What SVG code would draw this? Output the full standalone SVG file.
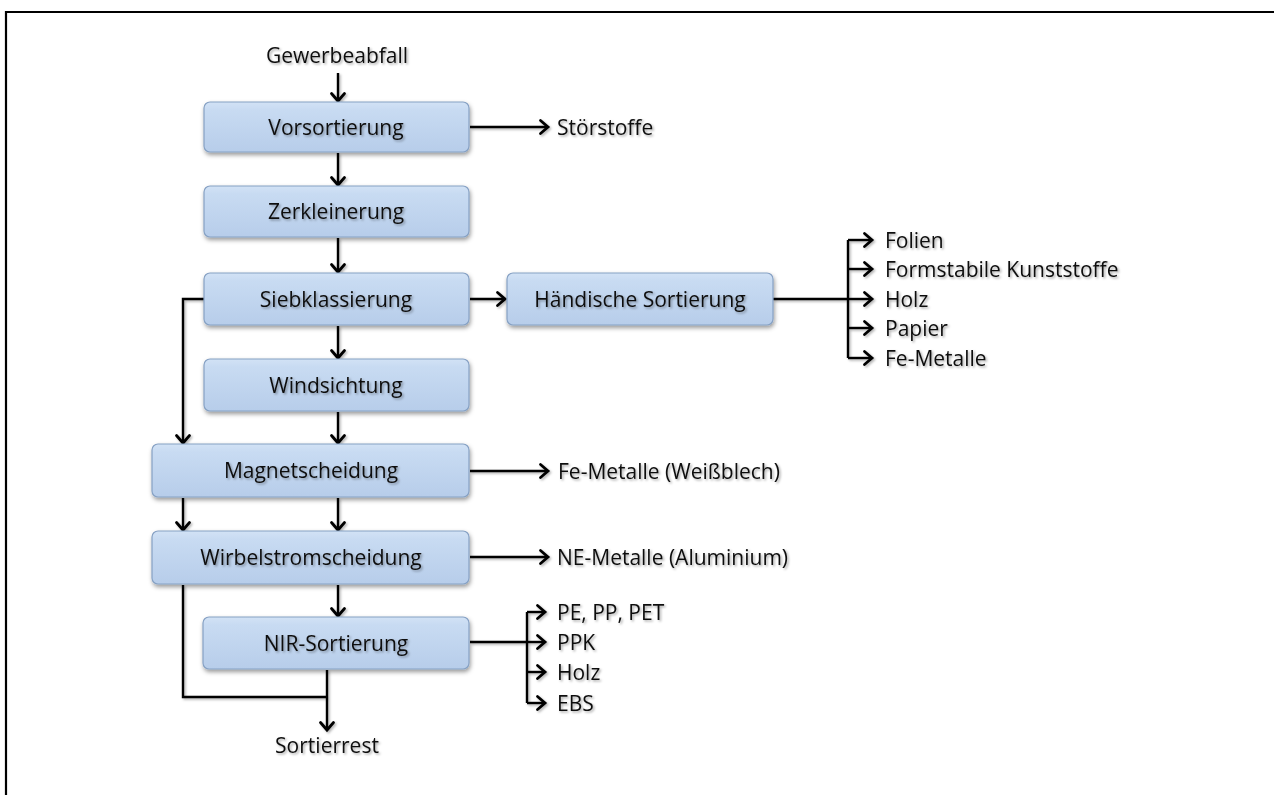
<svg xmlns="http://www.w3.org/2000/svg" width="1274" height="795" viewBox="0 0 1274 795">
  <defs>
    <linearGradient id="boxFill" x1="0" y1="0" x2="0" y2="1">
      <stop offset="0" stop-color="#d2e2f5"/>
      <stop offset="0.15" stop-color="#c8dbf2"/>
      <stop offset="1" stop-color="#b7cdea"/>
    </linearGradient>
    <filter id="boxShadow" x="-10%" y="-20%" width="120%" height="150%">
      <feDropShadow dx="1" dy="2.5" stdDeviation="2" flood-color="#000" flood-opacity="0.4"/>
    </filter>
    <filter id="softShadow" x="-10%" y="-30%" width="120%" height="160%">
      <feDropShadow dx="1.5" dy="1.5" stdDeviation="1.3" flood-color="#000" flood-opacity="0.35"/>
    </filter>
    <filter id="wireShadow" filterUnits="userSpaceOnUse" x="0" y="0" width="1274" height="795">
      <feDropShadow dx="1.5" dy="1.5" stdDeviation="1.2" flood-color="#000" flood-opacity="0.3"/>
    </filter>
    <marker id="arrow" markerUnits="userSpaceOnUse" markerWidth="16" markerHeight="18" refX="10" refY="8" orient="auto" overflow="visible">
      <path d="M2.5,1.5 L10,8 L2.5,14.5" fill="none" stroke="#000" stroke-width="2.8" stroke-linecap="round" stroke-linejoin="miter"/>
    </marker>
    <style>
      .box { fill: url(#boxFill); stroke: #86a1c4; stroke-width: 1.2; filter: url(#boxShadow); }
      .lbl { font-family: "Open Sans", "Liberation Sans", sans-serif; font-size: 21px; fill: #111; filter: url(#softShadow); }
      .mid { text-anchor: middle; }
      .wire { fill: none; stroke: #000; stroke-width: 2.4; }
      .arr { marker-end: url(#arrow); }
      .frame { fill: none; stroke: #000; stroke-width: 2.2; }
    </style>
  </defs>

  <rect x="0" y="0" width="1274" height="795" fill="#fff"/>
  <path class="frame" d="M6,795 V12 H1274"/>

  <!-- connectors -->
  <g id="connectors" filter="url(#wireShadow)">
    <!-- main column -->
    <line class="wire arr" x1="338" y1="73" x2="338" y2="101"/>
    <line class="wire arr" x1="338" y1="153" x2="338" y2="185"/>
    <line class="wire arr" x1="338" y1="238" x2="338" y2="272"/>
    <line class="wire arr" x1="338" y1="326" x2="338" y2="358"/>
    <line class="wire arr" x1="338" y1="412" x2="338" y2="443"/>
    <line class="wire arr" x1="338" y1="498" x2="338" y2="530"/>
    <line class="wire arr" x1="338" y1="585" x2="338" y2="616"/>
    <!-- bypass left of the main column -->
    <polyline class="wire arr" points="204,299 183,299 183,443"/>
    <line class="wire arr" x1="183" y1="498" x2="183" y2="530"/>
    <polyline class="wire" points="183,585 183,697 327,697"/>
    <line class="wire arr" x1="327" y1="670" x2="327" y2="730"/>
    <!-- side outputs -->
    <line class="wire arr" x1="470" y1="127" x2="548" y2="127"/>
    <line class="wire arr" x1="470" y1="299" x2="505" y2="299"/>
    <line class="wire arr" x1="470" y1="471" x2="548" y2="471"/>
    <line class="wire arr" x1="470" y1="557" x2="548" y2="557"/>
    <!-- manual sorting fan-out -->
    <line class="wire" x1="773" y1="299" x2="848" y2="299"/>
    <line class="wire" x1="848" y1="240" x2="848" y2="358"/>
    <line class="wire arr" x1="848" y1="240" x2="872" y2="240"/>
    <line class="wire arr" x1="848" y1="269" x2="872" y2="269"/>
    <line class="wire arr" x1="848" y1="299" x2="872" y2="299"/>
    <line class="wire arr" x1="848" y1="328" x2="872" y2="328"/>
    <line class="wire arr" x1="848" y1="358" x2="872" y2="358"/>
    <!-- NIR fan-out -->
    <line class="wire" x1="470" y1="642" x2="527" y2="642"/>
    <line class="wire" x1="527" y1="612" x2="527" y2="703"/>
    <line class="wire arr" x1="527" y1="612" x2="545" y2="612"/>
    <line class="wire arr" x1="527" y1="642" x2="545" y2="642"/>
    <line class="wire arr" x1="527" y1="672" x2="545" y2="672"/>
    <line class="wire arr" x1="527" y1="703" x2="545" y2="703"/>
  </g>

  <!-- process steps -->
  <g id="vorsortierung">
    <rect class="box" x="204" y="102" width="265" height="50" rx="6"/>
    <text class="lbl mid" x="336" y="135">Vorsortierung</text>
  </g>
  <g id="zerkleinerung">
    <rect class="box" x="204" y="186" width="265" height="51" rx="6"/>
    <text class="lbl mid" x="336" y="219">Zerkleinerung</text>
  </g>
  <g id="siebklassierung">
    <rect class="box" x="204" y="273" width="265" height="52" rx="6"/>
    <text class="lbl mid" x="336" y="307">Siebklassierung</text>
  </g>
  <g id="windsichtung">
    <rect class="box" x="204" y="359" width="265" height="52" rx="6"/>
    <text class="lbl mid" x="336" y="393">Windsichtung</text>
  </g>
  <g id="magnetscheidung">
    <rect class="box" x="152" y="444" width="317" height="53" rx="6"/>
    <text class="lbl mid" x="311" y="478">Magnetscheidung</text>
  </g>
  <g id="wirbelstromscheidung">
    <rect class="box" x="152" y="531" width="317" height="53" rx="6"/>
    <text class="lbl mid" x="311" y="565">Wirbelstromscheidung</text>
  </g>
  <g id="nir-sortierung">
    <rect class="box" x="203" y="617" width="266" height="52" rx="6"/>
    <text class="lbl mid" x="336" y="651">NIR-Sortierung</text>
  </g>
  <g id="haendische-sortierung">
    <rect class="box" x="507" y="273" width="266" height="52" rx="6"/>
    <text class="lbl mid" x="640" y="307">Händische Sortierung</text>
  </g>

  <!-- inputs and outputs -->
  <g id="gewerbeabfall"><text class="lbl mid" x="337" y="63">Gewerbeabfall</text></g>
  <g id="stoerstoffe"><text class="lbl" x="557" y="135">Störstoffe</text></g>
  <g id="fe-weissblech"><text class="lbl" x="558" y="479">Fe-Metalle (Weißblech)</text></g>
  <g id="ne-aluminium"><text class="lbl" x="557" y="565">NE-Metalle (Aluminium)</text></g>
  <g id="sortierrest"><text class="lbl mid" x="327" y="753">Sortierrest</text></g>

  <g id="hand-outputs">
    <text class="lbl" x="885" y="248">Folien</text>
    <text class="lbl" x="885" y="277">Formstabile Kunststoffe</text>
    <text class="lbl" x="885" y="307">Holz</text>
    <text class="lbl" x="885" y="336">Papier</text>
    <text class="lbl" x="885" y="366">Fe-Metalle</text>
  </g>
  <g id="nir-outputs">
    <text class="lbl" x="557" y="620">PE, PP, PET</text>
    <text class="lbl" x="557" y="650">PPK</text>
    <text class="lbl" x="557" y="680">Holz</text>
    <text class="lbl" x="557" y="711">EBS</text>
  </g>
</svg>
